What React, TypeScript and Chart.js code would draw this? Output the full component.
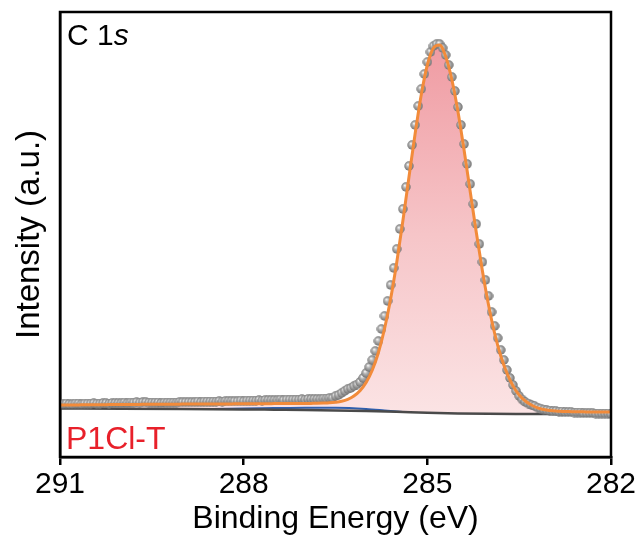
import React, { useEffect, useRef } from 'react';
import { Chart, registerables } from 'chart.js';

Chart.register(...registerables);

const FONT = "'Liberation Sans', Arial, Helvetica, sans-serif";

// Binding energy grid of the measured points (eV)
const DATA_E = [
  291, 290.95, 290.9, 290.85, 290.8, 290.75, 290.7, 290.65, 290.6, 290.55,
  290.5, 290.45, 290.4, 290.35, 290.3, 290.25, 290.2, 290.15, 290.1, 290.05,
  290, 289.95, 289.9, 289.85, 289.8, 289.75, 289.7, 289.65, 289.6, 289.55,
  289.5, 289.45, 289.4, 289.35, 289.3, 289.25, 289.2, 289.15, 289.1, 289.05,
  289, 288.95, 288.9, 288.85, 288.8, 288.75, 288.7, 288.65, 288.6, 288.55,
  288.5, 288.45, 288.4, 288.35, 288.3, 288.25, 288.2, 288.15, 288.1, 288.05,
  288, 287.95, 287.9, 287.85, 287.8, 287.75, 287.7, 287.65, 287.6, 287.55,
  287.5, 287.45, 287.4, 287.35, 287.3, 287.25, 287.2, 287.15, 287.1, 287.05,
  287, 286.95, 286.9, 286.85, 286.8, 286.75, 286.7, 286.65, 286.6, 286.55,
  286.5, 286.45, 286.4, 286.35, 286.3, 286.25, 286.2, 286.15, 286.1, 286.05,
  286, 285.95, 285.9, 285.85, 285.8, 285.75, 285.7, 285.65, 285.6, 285.55,
  285.5, 285.45, 285.4, 285.35, 285.3, 285.25, 285.2, 285.15, 285.1, 285.05,
  285, 284.95, 284.9, 284.85, 284.8, 284.75, 284.7, 284.65, 284.6, 284.55,
  284.5, 284.45, 284.4, 284.35, 284.3, 284.25, 284.2, 284.15, 284.1, 284.05,
  284, 283.95, 283.9, 283.85, 283.8, 283.75, 283.7, 283.65, 283.6, 283.55,
  283.5, 283.45, 283.4, 283.35, 283.3, 283.25, 283.2, 283.15, 283.1, 283.05,
  283, 282.95, 282.9, 282.85, 282.8, 282.75, 282.7, 282.65, 282.6, 282.55,
  282.5, 282.45, 282.4, 282.35, 282.3, 282.25, 282.2, 282.15, 282.1, 282.05,
  282,
];

// Measured intensity (a.u.)
const DATA_I = [
  53, 53, 53.5, 53, 53, 53.5, 53.5, 53, 53.5, 53.5,
  53.5, 54, 53.5, 53.5, 54, 54, 53.5, 54, 54, 54,
  54, 54.5, 54, 54.5, 54.5, 55, 54.5, 55, 55, 54.5,
  54.5, 54.5, 54.5, 54, 54.5, 54.5, 54.5, 54.5, 54.5, 55,
  55, 55, 55, 55, 55, 55.5, 55, 55.5, 55.5, 55.5,
  55.5, 55.5, 56, 55.5, 56, 56, 56, 56, 56, 56.5,
  56, 56.5, 56.5, 56.5, 56.5, 57, 56.5, 57, 57, 57,
  57, 57, 57.5, 57, 57.5, 57.5, 57.5, 57.5, 57.5, 58,
  57.5, 58, 58, 58, 58, 58, 58.5, 58.5, 59, 59,
  61, 62, 64, 66, 68, 69, 71, 72.5, 75, 79,
  84, 90, 97, 106, 116, 128, 141, 156, 172, 189,
  208, 228, 248, 270, 291, 312, 332, 351, 368, 383,
  395, 405, 411, 413, 413, 409, 402, 392, 380, 366,
  350, 332, 313, 293, 273, 253, 233, 213, 195, 177,
  161, 145, 131, 119, 107, 97, 87, 79, 72, 66,
  61, 57.5, 55, 53.5, 52, 51, 49.5, 48.5, 47.5, 47,
  46.5, 46, 46, 45.5, 45.5, 45, 45, 45, 44.5, 44.5,
  44.5, 44, 44, 44, 44, 43.5, 43.5, 43.5, 43.5, 43.5,
  43,
];

// Fitted envelope (orange)
const FIT_E = [
  291, 290.9, 290.8, 290.7, 290.6, 290.5, 290.4, 290.3, 290.2, 290.1,
  290, 289.9, 289.8, 289.7, 289.6, 289.5, 289.4, 289.3, 289.2, 289.1,
  289, 288.9, 288.8, 288.7, 288.6, 288.5, 288.4, 288.3, 288.2, 288.1,
  288, 287.9, 287.8, 287.7, 287.6, 287.5, 287.4, 287.3, 287.2, 287.1,
  287, 286.9, 286.8, 286.7, 286.6, 286.5, 286.4, 286.3, 286.2, 286.1,
  286, 285.9, 285.8, 285.7, 285.6, 285.5, 285.4, 285.3, 285.2, 285.1,
  285, 284.9, 284.8, 284.7, 284.6, 284.5, 284.4, 284.3, 284.2, 284.1,
  284, 283.9, 283.8, 283.7, 283.6, 283.5, 283.4, 283.3, 283.2, 283.1,
  283, 282.9, 282.8, 282.7, 282.6, 282.5, 282.4, 282.3, 282.2, 282.1,
  282,
];
const FIT_I = [
  52, 52, 52.1, 52.1, 52.2, 52.2, 52.3, 52.3, 52.4, 52.4,
  52.5, 52.5, 52.6, 52.6, 52.7, 52.7, 52.7, 52.8, 52.8, 52.8,
  52.9, 52.9, 52.9, 53, 53, 53, 53.1, 53.1, 53.1, 53.2,
  53.2, 53.2, 53.3, 53.3, 53.3, 53.4, 53.4, 53.4, 53.5, 53.5,
  53.5, 53.6, 53.7, 53.9, 54.2, 54.8, 55.8, 57.7, 61, 66.3,
  74.5, 86.8, 104.3, 128, 158, 194.5, 236, 280, 323, 362,
  392, 409, 412, 400.5, 377.5, 345.5, 307, 265.5, 224.5, 186,
  152, 123.5, 101, 84, 71, 62, 56, 52, 49.2, 47.5,
  46.5, 45.9, 45.6, 45.4, 45.3, 45.2, 45.1, 45.1, 45, 45,
  45,
];

// Background (dark grey)
const BG_E = [291, 290, 289, 288, 287.5, 287, 286.5, 286, 285.5, 285, 284.5, 284, 283.5, 283, 282.5, 282];
const BG_I = [48.5, 48.3, 48, 47.6, 47.3, 47, 46.6, 46, 45.2, 44.3, 43.6, 43.2, 43, 42.9, 42.8, 42.8];

// Minor component (blue)
const BLUE_E = [289, 288.5, 288, 287.5, 287, 286.5, 286, 285.7, 285.4];
const BLUE_I = [48, 48.1, 48.4, 48.9, 49.3, 49.2, 48, 46.6, 45.1];

const X_TICKS = [291, 288, 285, 282];

function makeBall(): HTMLCanvasElement {
  const c = document.createElement('canvas');
  c.width = 10;
  c.height = 10;
  const g = c.getContext('2d')!;
  const grad = g.createRadialGradient(3.8, 3.4, 0.3, 5, 5, 5);
  grad.addColorStop(0, '#f4f4f4');
  grad.addColorStop(0.35, '#b5b5b5');
  grad.addColorStop(0.75, '#898989');
  grad.addColorStop(1, '#6c6c6c');
  g.fillStyle = grad;
  g.beginPath();
  g.arc(5, 5, 4.7, 0, Math.PI * 2);
  g.fill();
  return c;
}

const framePlugin = {
  id: 'frameAndLabels',
  afterDatasetsDraw(chart: any) {
    const { ctx, chartArea: a } = chart;
    ctx.save();
    ctx.strokeStyle = '#000';
    ctx.lineWidth = 2.5;
    ctx.strokeRect(a.left, a.top, a.right - a.left, a.bottom - a.top);
    ctx.textBaseline = 'alphabetic';
    ctx.textAlign = 'left';
    ctx.fillStyle = '#000';
    ctx.font = `30px ${FONT}`;
    const lx = a.left + 7;
    ctx.fillText('C 1', lx, a.top + 33);
    const w = ctx.measureText('C 1').width;
    ctx.font = `italic 30px ${FONT}`;
    ctx.fillText('s', lx + w, a.top + 33);
    ctx.fillStyle = '#e8202a';
    ctx.font = `32px ${FONT}`;
    ctx.fillText('P1Cl-T', a.left + 6, a.bottom - 8);
    ctx.restore();
  },
};

export default function App() {
  const ref = useRef<HTMLCanvasElement>(null);

  useEffect(() => {
    if (!ref.current) return;
    const ball = makeBall();
    const pts = (xs: number[], ys: number[]) => xs.map((x, i) => ({ x, y: ys[i] }));

    const chart = new Chart(ref.current, {
      type: 'scatter',
      data: {
        datasets: [
          {
            label: 'fit',
            data: pts(FIT_E, FIT_I),
            showLine: true,
            borderColor: '#f28b3a',
            borderWidth: 3,
            pointRadius: 0,
            cubicInterpolationMode: 'monotone',
            fill: { target: 2 },
            backgroundColor: (c: any) => {
              const area = c.chart.chartArea;
              if (!area) return 'rgba(240,160,168,0.6)';
              const g = c.chart.ctx.createLinearGradient(0, area.top, 0, area.bottom);
              g.addColorStop(0, '#ec8f98');
              g.addColorStop(0.1, '#f09ea5');
              g.addColorStop(0.5, '#f6c5c8');
              g.addColorStop(0.9, '#fbe3e4');
              g.addColorStop(1, '#fde9ea');
              return g;
            },
            order: 0,
          } as any,
          {
            label: 'data',
            data: pts(DATA_E, DATA_I),
            showLine: false,
            pointStyle: ball,
            pointRadius: 4.7,
            order: 1,
          } as any,
          {
            label: 'background',
            data: pts(BG_E, BG_I),
            showLine: true,
            borderColor: '#4a4a4a',
            borderWidth: 2.5,
            pointRadius: 0,
            cubicInterpolationMode: 'monotone',
            fill: false,
            order: 2,
          } as any,
          {
            label: 'minor',
            data: pts(BLUE_E, BLUE_I),
            showLine: true,
            borderColor: '#2f5fae',
            borderWidth: 2,
            pointRadius: 0,
            cubicInterpolationMode: 'monotone',
            fill: false,
            order: 3,
          } as any,
        ],
      },
      options: {
        responsive: false,
        animation: false,
        events: [],
        layout: { padding: { left: 0, right: 32, top: 12, bottom: 0 } },
        plugins: {
          legend: { display: false },
          tooltip: { enabled: false },
          filler: { propagate: false, drawTime: 'beforeDatasetsDraw' },
        } as any,
        scales: {
          x: {
            type: 'linear',
            min: 282,
            max: 291,
            reverse: true,
            afterBuildTicks: (s: any) => {
              s.ticks = X_TICKS.map((v) => ({ value: v }));
            },
            afterFit: (s: any) => {
              s.height = 85;
            },
            ticks: {
              color: '#000',
              font: { family: FONT, size: 30 },
              padding: 2,
              maxRotation: 0,
              autoSkip: false,
            },
            grid: {
              display: true,
              drawOnChartArea: false,
              drawTicks: true,
              tickLength: 8,
              color: '#000',
              lineWidth: 2.5,
            },
            border: { display: true, color: '#000', width: 2.5 },
            title: {
              display: true,
              text: 'Binding Energy (eV)',
              color: '#000',
              font: { family: FONT, size: 32 },
              padding: { top: 0, bottom: 4 },
            },
          },
          y: {
            type: 'linear',
            min: 0,
            max: 445,
            afterFit: (s: any) => {
              s.width = 60;
            },
            ticks: { display: false },
            grid: { display: false },
            border: { display: true, color: '#000', width: 2.5 },
            title: {
              display: true,
              text: 'Intensity (a.u.)',
              color: '#000',
              font: { family: FONT, size: 33 },
              padding: { top: 10, bottom: 0 },
            },
          },
        },
      },
      plugins: [framePlugin],
    } as any);

    return () => chart.destroy();
  }, []);

  return (
    <div style={{ position: 'absolute', left: 0, top: 0, width: 643, height: 542, background: '#fff' }}>
      <canvas ref={ref} width={643} height={542} style={{ display: 'block' }} />
    </div>
  );
}
